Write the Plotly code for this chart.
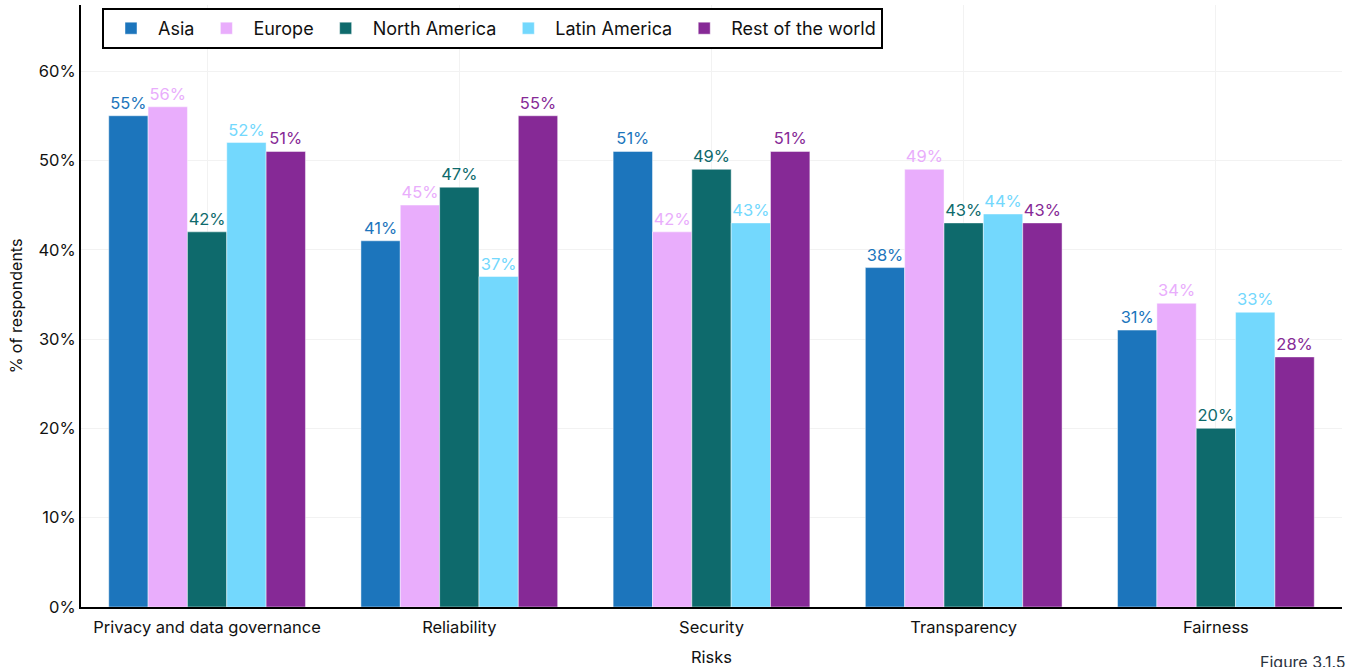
import plotly.graph_objects as go

categories = ["Privacy and data governance", "Reliability", "Security", "Transparency", "Fairness"]
regions = ["Asia", "Europe", "North America", "Latin America", "Rest of the world"]
asia = [55, 41, 51, 38, 31]
europe = [56, 45, 42, 49, 34]
north_america = [42, 47, 49, 43, 20]
latin_america = [52, 37, 43, 44, 33]
rest_of_world = [51, 55, 51, 43, 28]
colors = ["#1c75bc", "#e9adfc", "#0e6a6c", "#73d8fd", "#862996"]
series = [asia, europe, north_america, latin_america, rest_of_world]
yticks = [0, 10, 20, 30, 40, 50, 60]

FONT = "Inter, Lato, sans-serif"
ML, MR, MT, MB = 81, 4, 5, 60
PW = 1346 - ML - MR
PH = 667 - MT - MB

fig = go.Figure()
for name, vals, col in zip(regions, series, colors):
    fig.add_trace(go.Bar(
        name=name, x=categories, y=vals,
        marker=dict(color=col, line=dict(color="rgba(255,255,255,0.45)", width=1)),
        text=[f"{v}%" for v in vals], textposition="outside",
        textfont=dict(color=col, size=16.5, family=FONT),
        cliponaxis=False,
    ))

fig.update_layout(
    width=1346, height=667,
    paper_bgcolor="white", plot_bgcolor="white",
    margin=dict(l=ML, r=MR, t=MT, b=MB, autoexpand=False),
    barmode="group", bargap=0.22, bargroupgap=0,
    font=dict(family=FONT, color="#111111", size=16),
    showlegend=True,
    legend=dict(
        orientation="h", x=(102 - ML) / PW, y=1 - (8 - MT) / PH, xanchor="left", yanchor="top",
        bordercolor="black", borderwidth=2, bgcolor="white",
        font=dict(size=18, family=FONT, color="#111111"),
        itemwidth=44, traceorder="normal", tracegroupgap=0,
        entrywidthmode="pixels",
    ),
    xaxis=dict(
        automargin=False,
        showline=True, linecolor="black", linewidth=2,
        showgrid=True, gridcolor="#f2f2f2", gridwidth=1,
        tickfont=dict(size=16.5), ticks="", ticklabelstandoff=4,
        title=dict(text="Risks", font=dict(size=16.5), standoff=22),
    ),
    yaxis=dict(
        automargin=False,
        range=[0, 67.4], tickvals=yticks, ticktext=[f"{t}%" for t in yticks],
        showline=True, linecolor="black", linewidth=2,
        showgrid=True, gridcolor="#f2f2f2", gridwidth=1,
        zeroline=False, tickfont=dict(size=16.5), ticks="",
        title=dict(text="% of respondents", font=dict(size=16), standoff=12),
    ),
)

fig.add_annotation(
    text="Figure 3.1.5", xref="paper", yref="paper",
    x=(1258 - ML) / PW, y=-(662 - (667 - MB)) / PH,
    xanchor="left", yanchor="middle", showarrow=False,
    font=dict(size=16, color="#2b3340", family=FONT),
)

fig.write_html(
    "out.html",
    config={"displayModeBar": False},
    post_script="document.body.style.margin='0';document.body.style.overflow='hidden';",
)
